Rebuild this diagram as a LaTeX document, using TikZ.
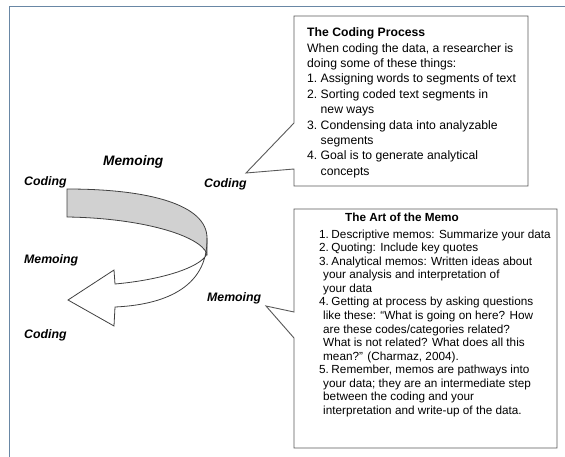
\documentclass[tikz,border=0pt]{standalone}
\usepackage{fontspec}
\setmainfont{Liberation Sans}

\definecolor{framecol}{RGB}{105,135,165}
\newcommand\processfont{\fontsize{12.2}{15.4}\selectfont}
\newcommand\memofont{\fontsize{11.75}{13.54}\selectfont}
\newcommand\pnum[1]{\makebox[13.5pt][l]{#1}}
\newcommand\mnum[1]{\makebox[12.3pt][l]{#1}}
\newcommand\mcont{\hspace*{4pt}}

\begin{document}
\begin{tikzpicture}[x=1pt,y=-1pt,
  lbl/.style={font=\fontsize{12.3}{14}\selectfont\bfseries\itshape, anchor=base west, inner sep=0},
  callout/.style={draw=black!65, line width=0.9pt},
  ribbon/.style={draw=black!75, line width=0.8pt},
  frameline/.style={draw=framecol, line width=1.5pt}]

\useasboundingbox (0,0) rectangle (565,457);
\draw[frameline] (9.5,457) -- (9.5,6.5) -- (565,6.5);

% the turning ribbon
\filldraw[ribbon, fill=black!18] (67,189) .. controls (150,189) and (207,205) .. (207,238)
  -- (207,254) .. controls (200,235) and (140,218) .. (67,217) -- cycle;
\draw[ribbon] (207,254) .. controls (200,268) and (160,280) .. (115,284)
  -- (114,270) -- (68,300) -- (114,326) -- (115,307)
  .. controls (160,305) and (208,290) .. (207,238);

\node[lbl] (coding1) at (24,186) {Coding};
\node[lbl, font=\fontsize{13.7}{15}\selectfont\bfseries\itshape] (memoing1) at (103,166) {Memoing};
\node[lbl] (coding2) at (204,188) {Coding};
\node[lbl] (memoing2) at (24,263) {Memoing};
\node[lbl] (memoing3) at (207,301) {Memoing};
\node[lbl] (coding3) at (24,338) {Coding};

% coding process box
\draw[callout] (294,16) -- (528,16) -- (528,186) -- (294,186) -- (294,169)
  -- (246,173) -- (294,123) -- cycle;
\node[anchor=north west, inner sep=0, font=\processfont] (process) at (307,25.7) {%
\begin{tabular}{@{}l@{}}
\textbf{The Coding Process}\\
When coding the data, a researcher is\\
doing some of these things:\\
\pnum{1.}Assigning words to segments of text\\
\pnum{2.}Sorting coded text segments in\\
\pnum{}new ways\\
\pnum{3.}Condensing data into analyzable\\
\pnum{}segments\\
\pnum{4.}Goal is to generate analytical\\
\pnum{}concepts
\end{tabular}};

% art of the memo box
\draw[callout] (294,209) -- (557,209) -- (557,448) -- (294,448) -- (294,338)
  -- (266,306) -- (294,312) -- cycle;
\node[anchor=base west, inner sep=0, font=\memofont\bfseries] (memotitle) at (345,222) {The Art of the Memo};
\node[anchor=north west, inner sep=0, font=\memofont] (memolist) at (319,228.6) {%
\begin{tabular}{@{}l@{}}
\mnum{1.}Descriptive memos: Summarize your data\\
\mnum{2.}Quoting: Include key quotes\\
\mnum{3.}Analytical memos: Written ideas about\\
\mcont your analysis and interpretation of\\
\mcont your data\\
\mnum{4.}Getting at process by asking questions\\
\mcont like these: ``What is going on here? How\\
\mcont are these codes/categories related?\\
\mcont What is not related? What does all this\\
\mcont mean?'' (Charmaz, 2004).\\
\mnum{5.}Remember, memos are pathways into\\
\mcont your data; they are an intermediate step\\
\mcont between the coding and your\\
\mcont interpretation and write-up of the data.
\end{tabular}};
\end{tikzpicture}
\end{document}
